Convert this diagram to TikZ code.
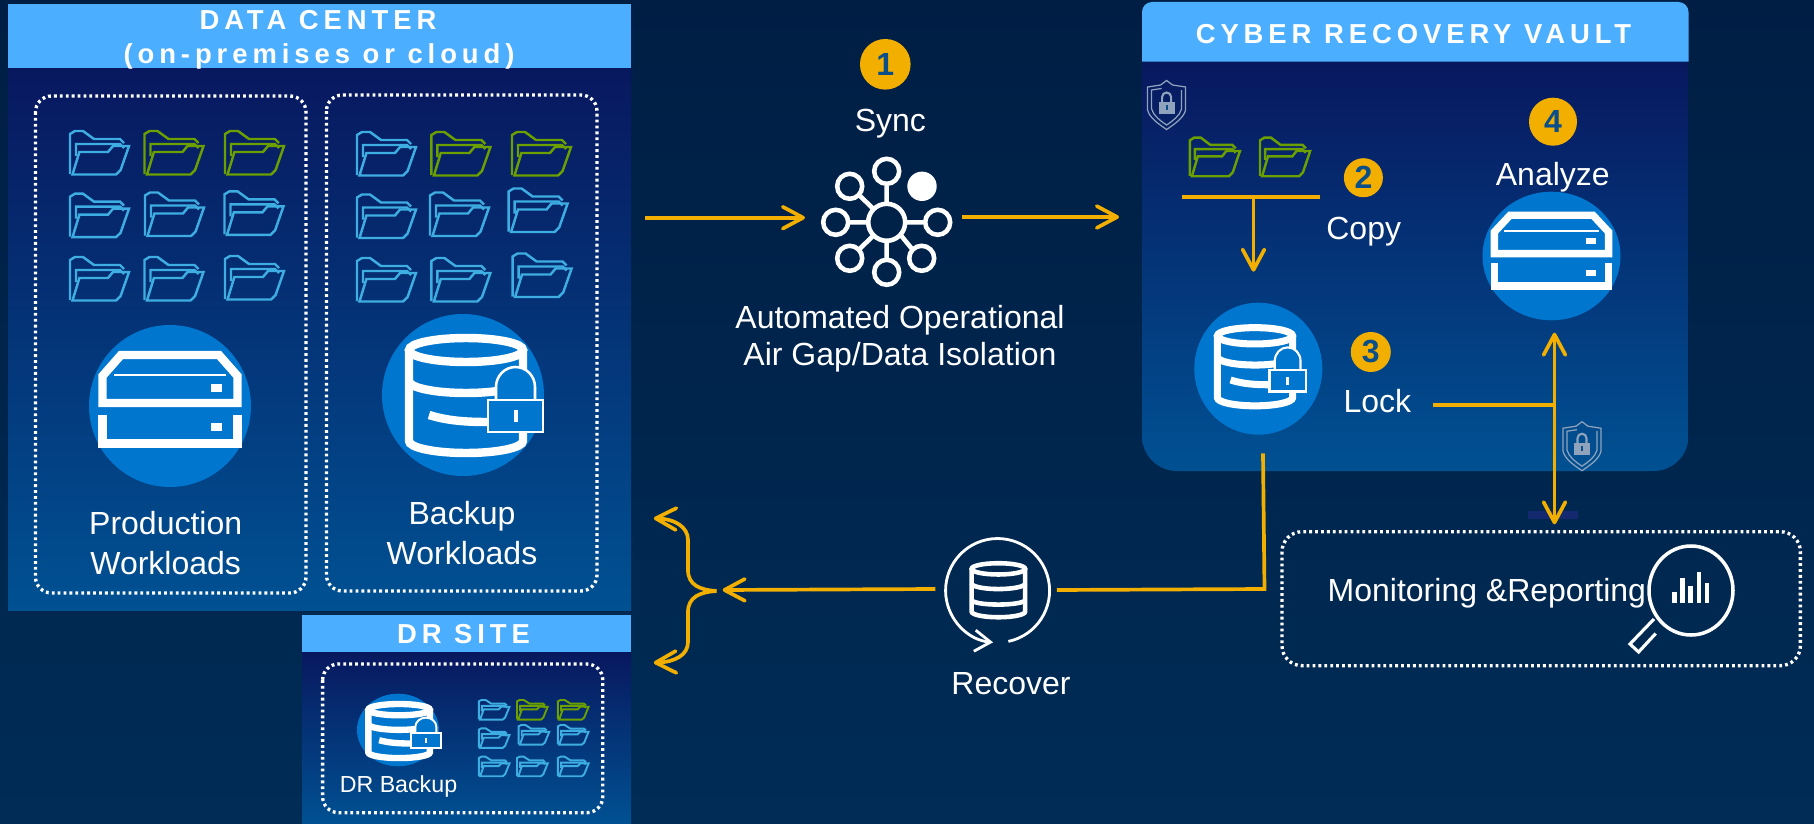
\documentclass[tikz,border=0pt]{standalone}
\usepackage{fontspec}
\setmainfont{Liberation Sans}
\usetikzlibrary{arrows.meta,calc}
\definecolor{bgTop}{RGB}{0,30,68}
\definecolor{bgBottom}{RGB}{0,44,86}
\definecolor{panelTop}{RGB}{8,24,95}
\definecolor{panelBottom}{RGB}{0,81,146}
\definecolor{headBlue}{RGB}{75,174,255}
\definecolor{discBlue}{RGB}{0,118,206}
\definecolor{foldBlue}{RGB}{62,174,226}
\definecolor{foldGreen}{RGB}{107,160,0}
\definecolor{flowGold}{RGB}{242,175,0}
\definecolor{digitBlue}{RGB}{10,78,138}
\definecolor{shieldGray}{RGB}{143,163,188}
\definecolor{barNavy}{RGB}{20,41,111}
\newcommand{\dbBody}{
  \draw [white] (3,-45) ellipse (57 and 12);
  \draw [white] (-54,-45) -- (-54,46) arc (180:0:57 and 12) -- (60,-45);
  \draw [white] (-54,-14) arc (180:0:57 and 12);
}
\tikzset{
  folder/.pic={
    \draw (0,43) -- (0,3) -- (5,0) -- (13,0) -- (24,8) -- (50,8) -- (54,12);
    \draw (6,25) -- (6,13) -- (50,13) -- (54,17);
    \draw (2.5,43.5) -- (9.4,21) -- (38,21) -- (43,15) -- (59,15) -- (50.6,39) -- (46,43.5) -- cycle;
  },
  server/.pic={
    \draw [white] (-67.5,-3) -- (-67.5,-30) -- (-49,-51) -- (49,-51) -- (67.5,-30) -- (67.5,-3) -- cycle;
    \draw [white,line width=.5\pgflinewidth] (-56,-31) -- (56,-31);
    \fill [white] (41,-22.5) rectangle (52,-14.5);
    \draw [white] (-67.5,9) -- (-67.5,37.5) -- (67.5,37.5) -- (67.5,9);
    \fill [white] (41,17) rectangle (52,25);
  },
  dbplain/.pic={
    \dbBody
    \draw [white] (-54,21) arc (180:0:57 and 10);
  },
  dblocked/.pic={
    \dbBody
    \draw [white] (-34,20) .. controls (-15,26) and (5,27) .. (24,27);
    \draw [white,fill=discBlue,line width=.55\pgflinewidth] (33,5) -- (33,-8) arc (180:360:19.5 and 20) -- (72,5);
    \draw [white,fill=discBlue,line width=.55\pgflinewidth] (25,5) rectangle (80,37);
    \fill [white] (50.5,15) rectangle (54.5,27);
  },
  shield/.pic={
    \draw [shieldGray,line width=.35pt] (0,-24.5) -- (6,-20) -- (19,-18) -- (19,5) .. controls (17,13) and (8,19) .. (0,24.5) .. controls (-8,19) and (-17,13) .. (-19,5) -- (-19,-18) -- (-6,-20) -- cycle;
    \draw [shieldGray,line width=.35pt] (15,-15) -- (15,4) .. controls (13,11) and (6,16) .. (0,20) .. controls (-6,16) and (-13,11) .. (-15,4) -- (-15,-15) -- (-5,-16.5);
    \draw [shieldGray,line width=.6pt] (-4.5,-3) -- (-4.5,-8) arc (180:360:4.5) -- (4.5,-3);
    \fill [shieldGray] (-8,-3.3) rectangle (8,9);
    \fill [digitBlue] (-1,0) rectangle (1,5);
  }
}
\begin{document}
\begin{tikzpicture}[x=0.01cm,y=-0.01cm]
\tikzstyle{every node}+=[inner sep=0pt]
\tikzstyle{panel}=[top color=panelTop,bottom color=panelBottom]
\tikzstyle{dotbox}=[draw=white,line width=.95pt,dash pattern=on .8pt off .88pt,rounded corners=.16cm]
\tikzstyle{headtext}=[anchor=base,text=white,font=\fontsize{7.8}{9}\selectfont\bfseries\addfontfeature{LetterSpace=18}]
\tikzstyle{lbl}=[text=white,align=center,font=\fontsize{9.1}{11.1}\selectfont]
\tikzstyle{badge}=[circle,fill=flowGold,text=digitBlue,font=\fontsize{9.1}{11}\selectfont\bfseries]
\tikzstyle{flowline}=[draw=flowGold,line width=1.05pt]
\tikzstyle{flow}=[flowline,-{Straight Barb[length=5.8pt,width=6.2pt,round]}]
\useasboundingbox (0,0) rectangle (1814,824);
\shade [top color=bgTop,bottom color=bgBottom] (0,0) rectangle (1814,824);

\shade [panel] (8,68) rectangle (631,610);
\fill [headBlue] (8,4) rectangle (631,68);
\node (dcTitle) [headtext] at (318,29.6) {DATA CENTER};
\node (dcSub) [headtext] at (319,63.2) {(on-premises or cloud)};
\draw [dotbox] (35.5,96) rectangle (306,593);
\draw [dotbox] (326.5,95) rectangle (597,591);
\foreach \x/\y/\col in {70/131/foldBlue,144.5/131/foldGreen,225/131/foldGreen,70/193.7/foldBlue,145/192.5/foldBlue,224.5/191.3/foldBlue,70/257/foldBlue,144.5/257/foldBlue,225/256/foldBlue,357/132/foldBlue,431.4/132/foldGreen,512/132/foldGreen,357/194.5/foldBlue,430/192.5/foldBlue,508.6/188.5/foldBlue,357/258/foldBlue,431.4/258/foldBlue,512.6/253.5/foldBlue}
  \pic [color=\col,line width=.7pt] at (\x,\y) {folder};
\fill [discBlue] (170,406) circle (81);
\pic [line width=2.4pt] at (170,406) {server};
\fill [discBlue] (463,395) circle (81);
\pic [line width=2.4pt] at (463,395) {dblocked};
\node (prodLabel) [lbl,anchor=base] at (165.7,574) {Production\\Workloads};
\node (backupLabel) [lbl,anchor=base] at (462,564) {Backup\\Workloads};

\shade [panel] (302,652) rectangle (631,824);
\fill [headBlue] (302,615) rectangle (631,652);
\node (drTitle) [headtext] at (463.5,643.3) {DR SITE};
\draw [dotbox] (322.6,664) rectangle (602.8,812.7);
\fill [discBlue] (398,730) ellipse (41 and 36.3);
\pic [line width=1.8pt,xscale=.54,yscale=.47] at (397.5,730.8) {dblocked};
\node (drLabel) [lbl,anchor=base,font=\fontsize{6.6}{8}\selectfont] at (398.5,792.7) {DR Backup};
\foreach \x/\y/\col in {478.8/700/foldBlue,517/700/foldGreen,557.9/700/foldGreen,478.8/728.3/foldBlue,518.6/725/foldBlue,557.9/725/foldBlue,478.8/756.7/foldBlue,517/756.7/foldBlue,557.9/756.7/foldBlue}
  \pic [color=\col,line width=.55pt,xscale=.52,yscale=.45] at (\x,\y) {folder};

\shade [panel,rounded corners=.35cm] (1142,61.7) -- (1142,471) -- (1688.5,471) -- (1688.5,61.7);
\fill [headBlue,rounded corners=.1cm] (1142,61.7) -- (1142,2) -- (1688.5,2) -- (1688.5,61.7);
\node (vaultTitle) [headtext] at (1413.5,44) {CYBER RECOVERY VAULT};
\pic at (1166.6,105) {shield};
\foreach \x in {1189.8,1260}
  \pic [color=foldGreen,line width=.7pt,xscale=.85,yscale=.886] at (\x,137.7) {folder};
\coordinate (rowL) at (1181.5,196.7);
\coordinate (rowR) at (1320,196.7);
\coordinate (rowDrop) at (1253.5,196.7);
\coordinate (lockIn) at (1253.5,271.7);
\draw [flowline] (rowL) -- (rowR);
\draw [flow] (rowDrop) -- (lockIn);
\node (badgeTwo) [badge,minimum size=.39cm] at (1363.4,177.7) {2};
\node (copyLabel) [lbl,anchor=base] at (1363.7,239.5) {Copy};
\node (badgeFour) [badge,minimum size=.48cm] at (1553,121.7) {4};
\node (analyzeLabel) [lbl,anchor=base] at (1552.8,185) {Analyze};
\fill [discBlue] (1551.5,256) ellipse (69 and 64.3);
\pic [line width=2.1pt,xscale=.846,yscale=.8] at (1551.5,256) {server};
\fill [discBlue] (1258.3,368.7) ellipse (64 and 66);
\pic [line width=2pt,xscale=.66,yscale=.68] at (1253,366.4) {dblocked};
\node (badgeThree) [badge,minimum size=.4cm] at (1370.8,352) {3};
\node (lockLabel) [lbl,anchor=base] at (1377.4,412.7) {Lock};
\pic at (1582,446.2) {shield};

\node (badgeOne) [badge,minimum size=.506cm] at (885.3,64.3) {1};
\node (syncLabel) [lbl,anchor=base] at (890.4,131) {Sync};
\coordinate (syncHub) at (886.7,222.3);
\draw [white,line width=1.3pt] (syncHub) circle (18.5);
\foreach \dx/\dy in {0/-51,-51/0,51/0,0/50,-37/-36,-37/36,35/36}
  \draw [white,line width=1.3pt] ($(syncHub)+(\dx,\dy)$) circle (12.5);
\draw [white,line width=1.3pt] (886.7,186) -- (886.7,204) (886.7,241) -- (886.7,260) (850,222.3) -- (868,222.3) (905.5,222.3) -- (923,222.3) (859,195) -- (873.5,209) (859,249.5) -- (873.5,235.5) (901,235.5) -- (912.5,249.5);
\fill [white] (922,186.3) circle (14.7);
\node (airgapLabel) [lbl,anchor=base] at (900,365) {Automated Operational\\[-.6pt]Air Gap/Data Isolation};
\coordinate (dcOut) at (645,217.7);
\coordinate (syncIn) at (805,217.7);
\coordinate (syncOut) at (962.3,217);
\coordinate (vaultIn) at (1119,217);
\draw [flow] (dcOut) -- (syncIn);
\draw [flow] (syncOut) -- (vaultIn);

\coordinate (lockOut) at (1433,405);
\coordinate (vaultJoin) at (1554.5,405);
\coordinate (analyzeIn) at (1554.5,332.7);
\coordinate (monitorIn) at (1554.5,524.3);
\fill [barNavy] (1528,511) rectangle (1577.7,519);
\draw [flowline] (lockOut) -- (vaultJoin);
\draw [flow,{Straight Barb[length=5.8pt,width=6.2pt,round]}-{Straight Barb[length=5.8pt,width=6.2pt,round]}] (analyzeIn) -- (monitorIn);

\draw [dotbox,rounded corners=.2cm] (1282,531.7) rectangle (1800.4,665.7);
\node (monitorLabel) [lbl,anchor=base west] at (1327,601.7) {Monitoring \&Reporting};
\coordinate (lensHub) at (1691,590.5);
\draw [white,line width=1pt] (lensHub) ellipse (42 and 44.5);
\draw [white,line width=.9pt] (1654,619) -- (1630,644) -- (1638.6,652) -- (1655.7,633.5);
\foreach \x/\y in {1674.4/591.7,1682.5/578.3,1690.5/585.7,1699/571.7,1706.7/583.3}
  \fill [white] (\x-2.2,\y) rectangle (\x+2.2,603.3);

\coordinate (vaultOut) at (1263,453.3);
\coordinate (vaultBend) at (1264.5,589);
\coordinate (recoverE) at (1056.8,590);
\coordinate (recoverW) at (935.4,589);
\coordinate (forkTip) at (722.6,590);
\coordinate (fork) at (716.5,591);
\coordinate (dcIn) at (653.8,518.3);
\coordinate (drIn) at (653.8,662.7);
\draw [flowline,line join=miter] (vaultOut) -- (vaultBend) -- (recoverE);
\draw [flow] (recoverW) -- (forkTip);
\draw [flow] (fork) .. controls (700,590) and (688,585) .. (688,570) -- (688,540) .. controls (688,527) and (675,519) .. (dcIn);
\draw [flow] (fork) .. controls (700,592) and (688,597) .. (688,612) -- (688,642) .. controls (688,655) and (675,662) .. (drIn);
\coordinate (recoverHub) at (997.4,590.5);
\draw [white,line width=.8pt,-{Straight Barb[length=4.5pt,width=6pt]}] (1008.4,641.4) arc (78:-265:52);
\pic [line width=1.3pt,xscale=.47,yscale=.47] at (997,590) {dbplain};
\node (recoverLabel) [lbl,anchor=base] at (1011,694) {Recover};
\end{tikzpicture}
\end{document}
